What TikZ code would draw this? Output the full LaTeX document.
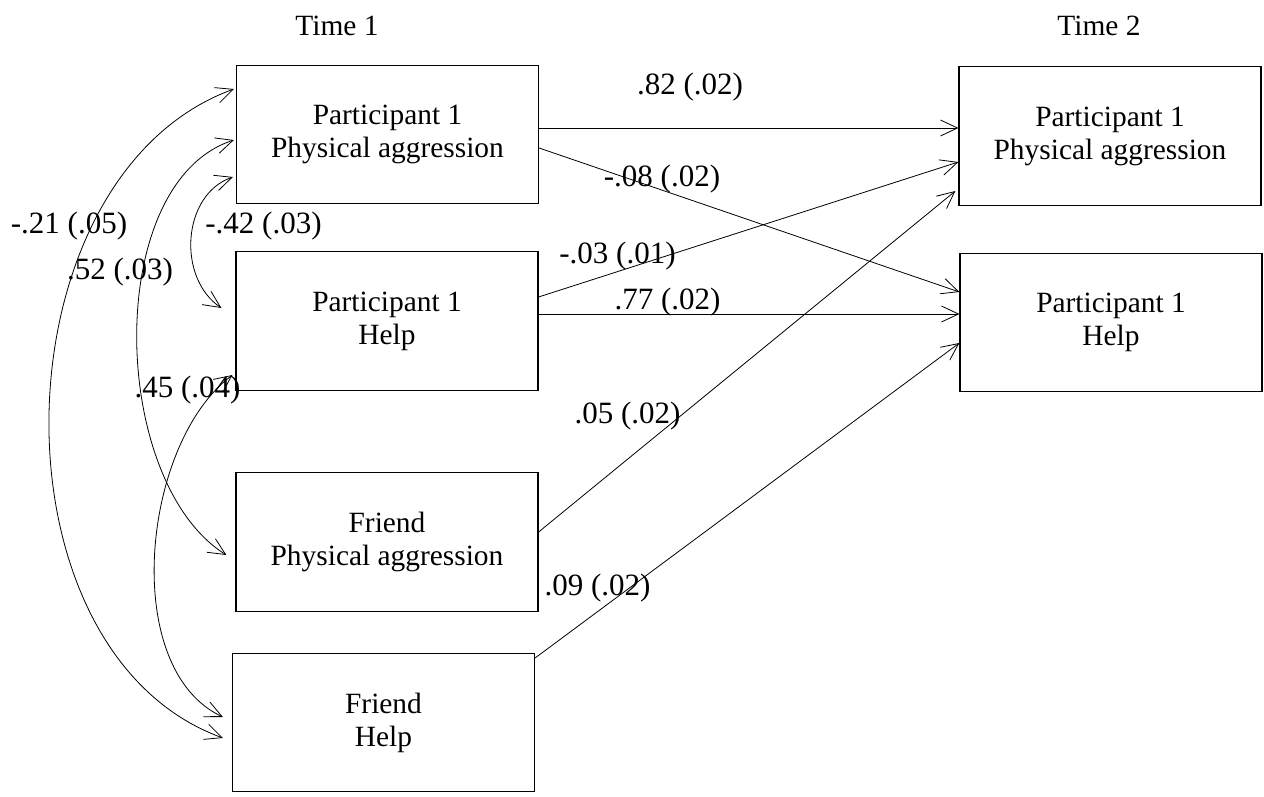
\documentclass[tikz,border=0pt]{standalone}
\usepackage{fontspec}
\setmainfont{Liberation Serif}
\usetikzlibrary{arrows.meta,calc}

\tikzset{
  var/.style={draw, line width=0.6pt, minimum width=151pt, minimum height=69.25pt,
    inner sep=0pt, align=center, font=\fontsize{14.7}{16.5}\selectfont},
  lab/.style={inner sep=0pt, font=\fontsize{14.7}{16.5}\selectfont},
  est/.style={inner sep=0pt, font=\fontsize{15.5}{18}\selectfont},
  barb/.tip={Straight Barb[length=8.5pt,width=8pt]},
  reg/.style={line width=0.4pt, -barb},
  cov/.style={line width=0.4pt, barb-barb},
}

\begin{document}
\begin{tikzpicture}[x=0.5pt, y=0.5pt]
  \useasboundingbox (0,0) rectangle (1264,-797);

  % time labels
  \node[lab, anchor=base] (time1) at (337,-36) {Time 1};
  \node[lab, anchor=base] (time2) at (1099,-36) {Time 2};

  % time 1
  \node[var] (t1pa)    at (387.5,-134.5) {Participant 1\\Physical aggression};
  \node[var] (t1help)  at (387,-321)     {Participant 1\\Help};
  \node[var] (t1fpa)   at (387,-542)     {Friend\\Physical aggression};
  \node[var] (t1fhelp) at (383.5,-722.5) {Friend\\Help};

  % time 2
  \node[var] (t2pa)   at (1110,-136)   {Participant 1\\Physical aggression};
  \node[var] (t2help) at (1111,-322.5) {Participant 1\\Help};

  % paths
  \draw[reg] ($(t1pa.east)+(0,6.5)$) -- ($(t2pa.west)+(0,8)$);
  \draw[reg] ($(t1pa.east)+(0,-13.5)$) -- ($(t2help.west)+(0,30.5)$);
  \draw[reg] ($(t1help.east)+(0,24)$) -- ($(t2pa.west)+(0,-26)$);
  \draw[reg] ($(t1help.east)+(0,7)$) -- ($(t2help.west)+(0,8.5)$);
  \draw[reg] ($(t1fpa.east)+(0,10)$) -- ($(t2pa.west)+(-3,-55)$);
  \draw[reg] ($(t1fhelp.east)+(0,64.5)$) -- ($(t2help.west)+(0,-20.5)$);

  % covariances
  \draw[cov] ($(t1pa.west)+(-2,45.5)$) to[out=200, in=160, looseness=1.0] ($(t1fhelp.west)+(-9,-15.5)$);
  \draw[cov] ($(t1pa.west)+(-2,-5.5)$) to[out=198, in=148, looseness=0.85] ($(t1fpa.west)+(-9,-13)$);
  \draw[cov] ($(t1pa.west)+(-3,-42.5)$) to[out=199, in=146, looseness=1.05] ($(t1help.west)+(-14,13)$);
  \draw[cov] ($(t1help.west)+(-3,-54)$) to[out=217, in=155, looseness=0.85] ($(t1fhelp.west)+(-9,5.5)$);

  % estimates
  \node[est] (e21) at (69,-226.5)  {-.21 (.05)};
  \node[est] (e52) at (120,-272)   {.52 (.03)};
  \node[est] (e42) at (263.5,-226.5) {-.42 (.03)};
  \node[est] (e45) at (187.5,-390) {.45 (.04)};
  \node[est] (e82) at (690,-87.5)  {.82 (.02)};
  \node[est] (e08) at (662,-179)   {-.08 (.02)};
  \node[est] (e03) at (617.5,-256) {-.03 (.01)};
  \node[est] (e77) at (667.5,-302) {.77 (.02)};
  \node[est] (e05) at (627.5,-416) {.05 (.02)};
  \node[est] (e09) at (597.5,-588) {.09 (.02)};
\end{tikzpicture}
\end{document}
